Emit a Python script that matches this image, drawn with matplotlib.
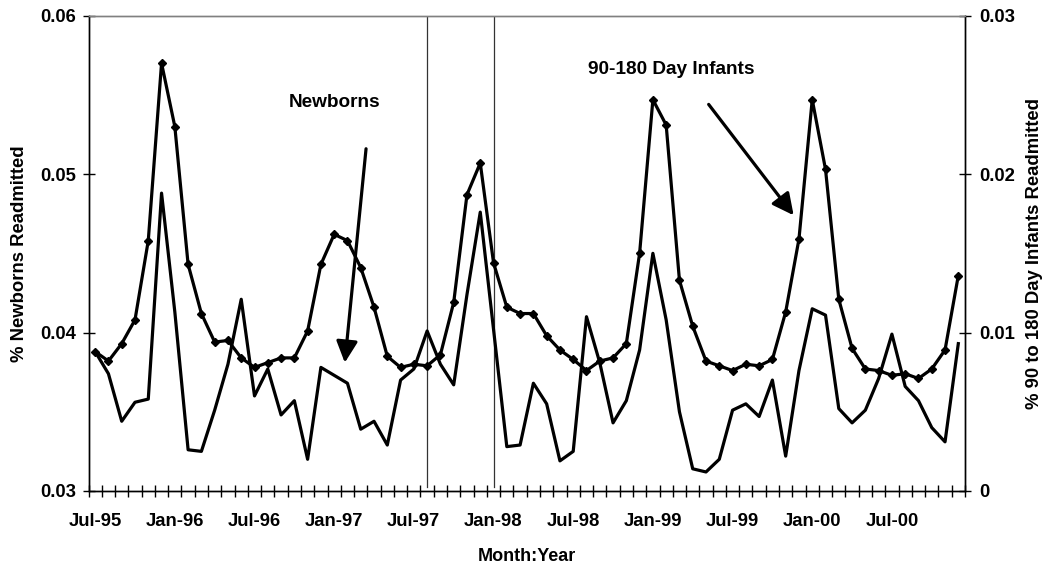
import matplotlib
matplotlib.use("Agg")
import matplotlib.pyplot as plt
import numpy as np

plt.rcParams['font.family'] = ['Liberation Sans', 'DejaVu Sans']
plt.rcParams['font.weight'] = 'bold'

# Monthly series, Jul-95 through Dec-00
month_labels = ["Jul-95", "Jan-96", "Jul-96", "Jan-97", "Jul-97", "Jan-98",
                "Jul-98", "Jan-99", "Jul-99", "Jan-00", "Jul-00"]

# % newborns readmitted (left axis)
newborns = [0.0388, 0.0374, 0.0344, 0.0356, 0.0358, 0.0488, 0.0413, 0.0326,
            0.0325, 0.0351, 0.0380, 0.0421, 0.0360, 0.0377, 0.0348, 0.0357,
            0.0320, 0.0378, 0.0373, 0.0368, 0.0339, 0.0344, 0.0329, 0.0370,
            0.0377, 0.0401, 0.0380, 0.0367, 0.0424, 0.0476, 0.0402, 0.0328,
            0.0329, 0.0368, 0.0355, 0.0319, 0.0325, 0.0410, 0.0381, 0.0343,
            0.0357, 0.0389, 0.0450, 0.0408, 0.0350, 0.0314, 0.0312, 0.0320,
            0.0351, 0.0355, 0.0347, 0.0370, 0.0322, 0.0376, 0.0415, 0.0411,
            0.0352, 0.0343, 0.0351, 0.0371, 0.0399, 0.0366, 0.0357, 0.0340,
            0.0331, 0.0393]

# % 90 to 180 day infants readmitted (right axis)
infants = [0.0088, 0.0082, 0.0093, 0.0108, 0.0158, 0.0270, 0.0230, 0.0143,
           0.0112, 0.0094, 0.0095, 0.0084, 0.0078, 0.0081, 0.0084, 0.0084,
           0.0101, 0.0143, 0.0162, 0.0158, 0.0141, 0.0116, 0.0085, 0.0078,
           0.0080, 0.0079, 0.0086, 0.0119, 0.0187, 0.0207, 0.0144, 0.0116,
           0.0112, 0.0112, 0.0098, 0.0089, 0.0083, 0.0076, 0.0082, 0.0084,
           0.0093, 0.0150, 0.0247, 0.0231, 0.0133, 0.0104, 0.0082, 0.0079,
           0.0076, 0.0080, 0.0079, 0.0083, 0.0113, 0.0159, 0.0247, 0.0203,
           0.0121, 0.0090, 0.0077, 0.0076, 0.0073, 0.0074, 0.0071, 0.0077,
           0.0089, 0.0136]

# months (index) marking the two vertical reference lines
event_months = [25, 30]

n = len(newborns)
x = np.arange(n)

fig = plt.figure(figsize=(10.5, 5.68), dpi=100)
ax = fig.add_axes([0.0843, 0.1356, 0.9190 - 0.0843, 0.9724 - 0.1356])
ax2 = ax.twinx()

ax.plot(x, newborns, color='black', lw=2.3, zorder=3)
ax2.plot(x, infants, color='black', lw=2.3, marker='D', markersize=4.5, zorder=3)

for m in event_months:
    ax.axvline(m, ymin=0.008, ymax=1, color='#333333', lw=0.9, zorder=2)

ax.set_xlim(-0.5, n - 0.5)
ax.set_ylim(0.03, 0.06)
ax2.set_ylim(0.0, 0.03)

ax.set_yticks([0.03, 0.04, 0.05, 0.06])
ax.set_yticklabels(["0.03", "0.04", "0.05", "0.06"])
ax2.set_yticks([0.0, 0.01, 0.02, 0.03])
ax2.set_yticklabels(["0", "0.01", "0.02", "0.03"])

# category boundaries carry the tick marks, month labels sit between them
ax.set_xticks(np.arange(-0.5, n, 1.0))
ax.set_xticklabels([])
ax.set_xticks(np.arange(0, n, 6), minor=True)
ax.set_xticklabels(month_labels, minor=True)
ax.tick_params(axis='x', which='major', direction='inout', length=8, width=1)
ax.tick_params(axis='x', which='minor', length=0, pad=15.5, labelsize=13.3)
ax.tick_params(axis='y', direction='inout', length=8, width=1, pad=5,
               labelsize=13.3)
ax2.tick_params(axis='y', direction='inout', length=8, width=1, pad=6,
                labelsize=13.3)
for lab in ax.get_xticklabels(minor=True) + ax.get_yticklabels() + ax2.get_yticklabels():
    lab.set_fontweight('bold')

for a in (ax, ax2):
    a.spines['top'].set_color('#808080')
    a.spines['top'].set_linewidth(1.0)
    for s in ('left', 'right', 'bottom'):
        a.spines[s].set_linewidth(1.0)
        a.spines[s].set_color('black')

ax.set_xlabel("Month:Year", fontsize=13, fontweight='bold', labelpad=13)
ax.set_ylabel("% Newborns Readmitted", fontsize=13.3, fontweight='bold',
              labelpad=8.5)
ax2.set_ylabel("% 90 to 180 Day Infants Readmitted", fontsize=13.3,
               fontweight='bold', labelpad=8)

arrow_style = dict(arrowstyle='-|>,head_length=1.3,head_width=0.65',
                   mutation_scale=10, lw=2.3, color='black',
                   shrinkA=0, shrinkB=0)
ax.text(18.0, 0.0545, "Newborns", fontsize=13.7, fontweight='bold',
        ha='center', va='center')
ax.annotate("", xy=(18.8, 0.0381), xytext=(20.4, 0.0516),
            arrowprops=arrow_style)
ax.text(43.4, 0.0566, "90-180 Day Infants", fontsize=13.7, fontweight='bold',
        ha='center', va='center')
ax.annotate("", xy=(52.6, 0.0474), xytext=(46.2, 0.0544),
            arrowprops=arrow_style)

fig.savefig("out.png", dpi=100)
